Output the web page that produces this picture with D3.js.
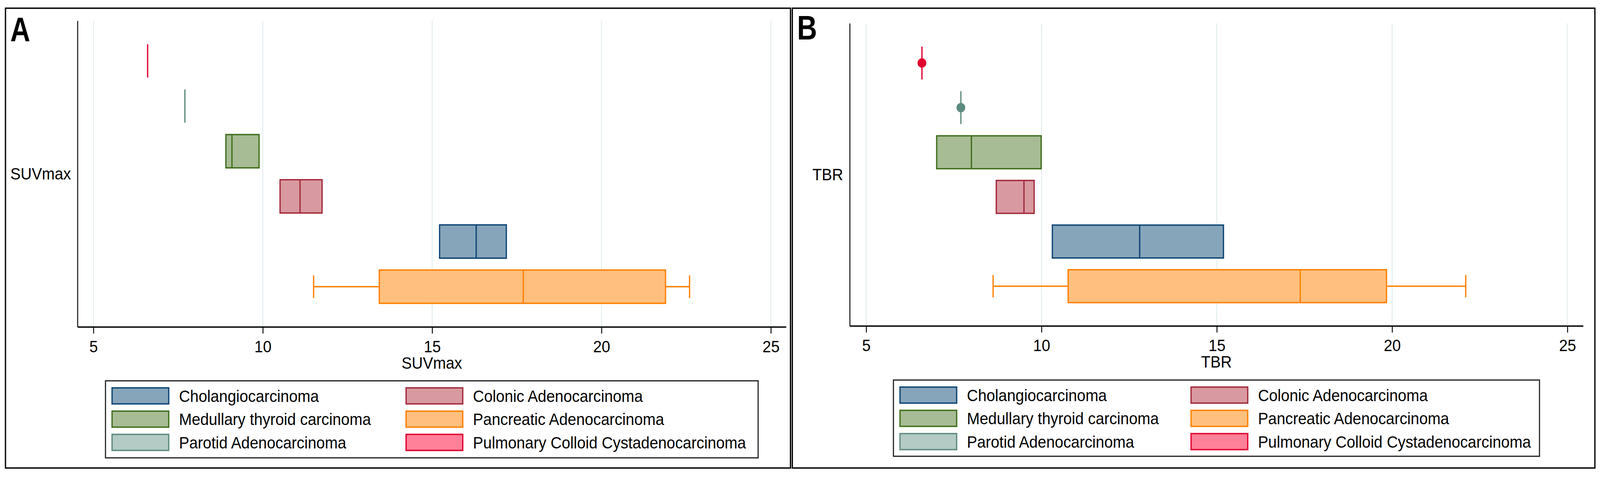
<!DOCTYPE html>
<html>
<head>
<meta charset="utf-8">
<script src="https://cdn.jsdelivr.net/npm/d3@7"></script>
<style>
  html, body { margin: 0; padding: 0; background: #fff; overflow: hidden; }
  #chart svg { display: block; width: 100vw; height: 100vh; }
  text { font-family: "Liberation Sans", Arial, sans-serif; }
</style>
</head>
<body>
<div id="chart"></div>
<script>
// categories (legend order, alphabetical)
const categories = [
  "Cholangiocarcinoma",
  "Colonic Adenocarcinoma",
  "Medullary thyroid carcinoma",
  "Pancreatic Adenocarcinoma",
  "Parotid Adenocarcinoma",
  "Pulmonary Colloid Cystadenocarcinoma"
];
const strokeColors = ["#0c4575", "#a3283a", "#3e6e1b", "#ff7f00", "#5d8b80", "#e0002f"];
const fillColors   = ["#87a5ba", "#d89aa0", "#a7bc94", "#ffc07f", "#b3cbc4", "#ff8099"];

// SUVmax (panel A)
const suvLow    = [15.22, 10.51, 8.91, 11.50, 7.70, 6.60];
const suvQ1     = [15.22, 10.51, 8.91, 13.44, 7.70, 6.60];
const suvMedian = [16.30, 11.10, 9.09, 17.69, 7.70, 6.60];
const suvQ3     = [17.19, 11.75, 9.89, 21.89, 7.70, 6.60];
const suvHigh   = [17.19, 11.75, 9.89, 22.60, 7.70, 6.60];

// TBR (panel B)
const tbrLow    = [10.31, 8.71, 7.01, 8.62, 7.70, 6.59];
const tbrQ1     = [10.31, 8.71, 7.01, 10.76, 7.70, 6.59];
const tbrMedian = [12.80, 9.50, 8.00, 17.38, 7.70, 6.59];
const tbrQ3     = [15.19, 9.79, 9.99, 19.84, 7.70, 6.59];
const tbrHigh   = [15.19, 9.79, 9.99, 22.10, 7.70, 6.59];

const xTicks = [5, 10, 15, 20, 25];
const xDomain = [4.53, 25.45];

const W = 4376, H = 1220;
const FONT = 42;
const GRID = "#e2edf0";

// fit the whole drawing to the window whatever its real size
const svg = d3.select("#chart").append("svg")
  .attr("viewBox", `0 0 ${W} ${H}`)
  .attr("preserveAspectRatio", "none");

svg.append("rect").attr("width", W).attr("height", H).attr("fill", "#fff");

const panels = [
  {
    letter: "A", title: "SUVmax", dots: false,
    frame: { x0: 15, y0: 21, x1: 2162, y1: 1197 },
    plot: { left: 212, right: 2150, top: 53, bottom: 836 },
    letterPos: [28, 105],
    legend: { top: 974, h: 197, w: 1785 },
    low: suvLow, q1: suvQ1, med: suvMedian, q3: suvQ3, high: suvHigh
  },
  {
    letter: "B", title: "TBR", dots: true,
    frame: { x0: 2167, y0: 21, x1: 4362, y1: 1197 },
    plot: { left: 2324, right: 4330, top: 59.5, bottom: 833.5 },
    letterPos: [2180, 101],
    legend: { top: 972, h: 195, w: 1767 },
    low: tbrLow, q1: tbrQ1, med: tbrMedian, q3: tbrQ3, high: tbrHigh
  }
];

panels.forEach(function (p) {
  const g = svg.append("g");

  // outer frame
  g.append("rect")
    .attr("x", p.frame.x0).attr("y", p.frame.y0)
    .attr("width", p.frame.x1 - p.frame.x0).attr("height", p.frame.y1 - p.frame.y0)
    .attr("fill", "none").attr("stroke", "#000").attr("stroke-width", 3.5);

  // panel letter
  g.append("text")
    .attr("transform", `translate(${p.letterPos[0]},${p.letterPos[1]}) scale(0.86,1)`)
    .attr("font-size", 88).attr("font-weight", "bold").attr("fill", "#000")
    .text(p.letter);

  const rows = categories.map(function (c, i) {
    return { name: c, i: i, low: p.low[i], q1: p.q1[i], med: p.med[i], q3: p.q3[i], high: p.high[i] };
  });
  // plotted from lowest median (top) to highest (bottom)
  const order = rows.slice().sort(function (a, b) { return d3.ascending(a.med, b.med); }).map(d => d.name);

  const x = d3.scaleLinear().domain(xDomain).range([p.plot.left, p.plot.right]);
  const y = d3.scalePoint().domain(order).range([p.plot.top, p.plot.bottom]).padding(0.89);
  const step = y.step();
  const boxH = step * 0.737;
  const capH = step * 0.5;

  // gridlines
  g.append("g").selectAll("line").data(xTicks).join("line")
    .attr("x1", d => x(d)).attr("x2", d => x(d))
    .attr("y1", p.plot.top).attr("y2", p.plot.bottom)
    .attr("stroke", GRID).attr("stroke-width", 2.5);

  const boxes = g.append("g").selectAll("g").data(rows).join("g");

  // whiskers
  boxes.filter(d => d.low < d.q1 || d.high > d.q3).each(function (d) {
    const s = d3.select(this);
    const cy = y(d.name);
    const col = strokeColors[d.i];
    s.append("line").attr("x1", x(d.low)).attr("x2", x(d.q1)).attr("y1", cy).attr("y2", cy)
      .attr("stroke", col).attr("stroke-width", 3.5);
    s.append("line").attr("x1", x(d.q3)).attr("x2", x(d.high)).attr("y1", cy).attr("y2", cy)
      .attr("stroke", col).attr("stroke-width", 3.5);
    [d.low, d.high].forEach(function (v) {
      s.append("line").attr("x1", x(v)).attr("x2", x(v))
        .attr("y1", cy - capH / 2).attr("y2", cy + capH / 2)
        .attr("stroke", col).attr("stroke-width", 3.5);
    });
  });

  // boxes
  boxes.append("rect")
    .attr("x", d => x(d.q1)).attr("width", d => x(d.q3) - x(d.q1))
    .attr("y", d => y(d.name) - boxH / 2).attr("height", boxH)
    .attr("fill", d => fillColors[d.i])
    .attr("stroke", d => strokeColors[d.i]).attr("stroke-width", 3.5);

  // medians
  boxes.append("line")
    .attr("x1", d => x(d.med)).attr("x2", d => x(d.med))
    .attr("y1", d => y(d.name) - boxH / 2).attr("y2", d => y(d.name) + boxH / 2)
    .attr("stroke", d => strokeColors[d.i]).attr("stroke-width", 3.5);

  // single-value markers
  if (p.dots) {
    boxes.filter(d => d.q1 === d.q3).append("circle")
      .attr("cx", d => x(d.med)).attr("cy", d => y(d.name)).attr("r", 12)
      .attr("fill", d => strokeColors[d.i]);
  }

  // x axis
  const xAxis = g.append("g")
    .attr("transform", `translate(0,${p.plot.bottom})`)
    .call(d3.axisBottom(x).tickValues(xTicks).tickSize(17).tickSizeOuter(0).tickPadding(18));
  xAxis.select(".domain").attr("stroke", "#000").attr("stroke-width", 3.5);
  xAxis.selectAll(".tick line").attr("stroke", "#000").attr("stroke-width", 2.5);
  xAxis.selectAll(".tick text")
    .attr("font-size", FONT).attr("fill", "#000")
    .attr("font-family", "'Liberation Sans', Arial, sans-serif");

  // y axis (no ticks)
  const yAxis = g.append("g")
    .attr("transform", `translate(${p.plot.left},0)`)
    .call(d3.axisLeft(y).tickValues([]).tickSizeOuter(0));
  yAxis.select(".domain").attr("stroke", "#000").attr("stroke-width", 2.5);

  // axis titles
  g.append("text")
    .attr("x", (p.plot.left + p.plot.right) / 2).attr("y", p.plot.bottom + 107)
    .attr("text-anchor", "middle").attr("font-size", FONT).attr("fill", "#000")
    .text(p.title);
  g.append("text")
    .attr("x", p.plot.left - 18).attr("y", (p.plot.top + p.plot.bottom) / 2 + 15)
    .attr("text-anchor", "end").attr("font-size", FONT).attr("fill", "#000")
    .text(p.title);

  // legend
  const lx = (p.plot.left + p.plot.right) / 2 - p.legend.w / 2;
  const lg = g.append("g").attr("transform", `translate(${lx},${p.legend.top})`);
  lg.append("rect")
    .attr("width", p.legend.w).attr("height", p.legend.h)
    .attr("fill", "#fff").attr("stroke", "#1a1a1a").attr("stroke-width", 3);
  const colX = [18, 18 + p.legend.w * 0.4505];
  const item = lg.selectAll("g.item").data(categories).join("g")
    .attr("class", "item")
    .attr("transform", (d, i) => `translate(${colX[i % 2]},${18 + Math.floor(i / 2) * 59.5})`);
  item.append("rect")
    .attr("width", 155).attr("height", 41)
    .attr("fill", (d, i) => fillColors[i])
    .attr("stroke", (d, i) => strokeColors[i]).attr("stroke-width", 3.5);
  item.append("text")
    .attr("x", 183).attr("y", 20.5 + 15)
    .attr("font-size", FONT).attr("fill", "#000")
    .text(d => d);
});
</script>
</body>
</html>
